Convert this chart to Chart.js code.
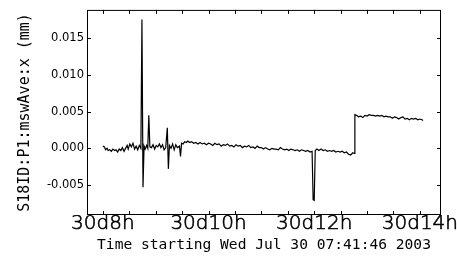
<!DOCTYPE html>
<html>
<head>
<meta charset="utf-8">
<script src="https://cdn.jsdelivr.net/npm/chart.js@4/dist/chart.umd.min.js"></script>
<style>
  html, body { margin: 0; padding: 0; background: #fff; }
  #wrap { width: 457px; height: 262px; }
</style>
</head>
<body>
<div id="wrap"><canvas id="chart" width="457" height="262"></canvas></div>
<script>
// temps en heures (30 juillet 2003)
const hours = [
  8.00, 8.03, 8.05, 8.08, 8.10, 8.13, 8.16, 8.19, 8.22, 8.25, 8.28, 8.31, 8.34, 8.37, 8.40, 8.43,
  8.46, 8.48, 8.51, 8.54, 8.57, 8.60, 8.63, 8.66, 8.69, 8.72, 8.74, 8.76, 8.78, 8.80, 8.83, 8.85,
  8.87, 8.89, 8.92, 8.95, 8.98, 9.01, 9.04, 9.07, 9.10, 9.13, 9.16, 9.19, 9.22, 9.24, 9.26, 9.29,
  9.32, 9.35, 9.38, 9.41, 9.45, 9.47, 9.49, 9.52, 9.55, 9.58, 9.61, 9.64, 9.68, 9.72, 9.76, 9.80,
  9.84, 9.88, 9.92, 9.96, 10.00, 10.04, 10.08, 10.12, 10.16, 10.20, 10.24, 10.28, 10.32, 10.36,
  10.40, 10.44, 10.48, 10.52, 10.56, 10.60, 10.64, 10.68, 10.72, 10.76, 10.80, 10.84, 10.88, 10.92,
  10.96, 11.00, 11.04, 11.08, 11.12, 11.16, 11.20, 11.24, 11.28, 11.32, 11.36, 11.40, 11.44, 11.48,
  11.52, 11.56, 11.60, 11.64, 11.68, 11.72, 11.76, 11.80, 11.84, 11.88, 11.92, 11.96, 11.98, 12.00,
  12.02, 12.05, 12.09, 12.13, 12.17, 12.21, 12.25, 12.29, 12.33, 12.37, 12.41, 12.45, 12.49, 12.53,
  12.57, 12.61, 12.65, 12.69, 12.73, 12.76, 12.77, 12.80, 12.84, 12.88, 12.92, 12.96, 13.00, 13.04,
  13.08, 13.12, 13.16, 13.20, 13.24, 13.28, 13.32, 13.36, 13.40, 13.44, 13.48, 13.52, 13.56, 13.60,
  13.64, 13.68, 13.72, 13.76, 13.80, 13.84, 13.88, 13.92, 13.96, 14.00, 14.04, 14.06
];

// S18ID:P1:mswAve:x en mm
const mswAveX = [
  0.0003, 0.0002, -0.0002, 0.0000, -0.0003, -0.0002, -0.0004, -0.0001, -0.0003, -0.0002, -0.0005, -0.0001, -0.0003, 0.0001, -0.0004, 0.0000,
  0.0004, -0.0001, 0.0006, 0.0002, 0.0007, -0.0001, 0.0003, -0.0002, 0.0004, 0.0000, 0.0176, -0.0053, 0.0003, -0.0001, 0.0004, 0.0000,
  0.0045, 0.0002, 0.0001, 0.0005, -0.0001, 0.0004, 0.0002, 0.0006, 0.0001, 0.0005, -0.0002, 0.0001, 0.0028, -0.0028, 0.0004, 0.0000,
  0.0006, -0.0002, 0.0005, 0.0001, 0.0003, -0.0011, 0.0007, 0.0006, 0.0009, 0.0008, 0.0010, 0.0008, 0.0009, 0.0007, 0.0008, 0.0006,
  0.0008, 0.0006, 0.0007, 0.0005, 0.0007, 0.0006, 0.0004, 0.0007, 0.0005, 0.0006, 0.0003, 0.0005, 0.0004, 0.0006,
  0.0003, 0.0004, 0.0002, 0.0005, 0.0003, 0.0004, 0.0001, 0.0003, 0.0002, 0.0004, 0.0001, 0.0002, 0.0000, 0.0003,
  0.0001, 0.0001, -0.0001, 0.0001, -0.0001, -0.0002, 0.0000, -0.0001, -0.0001, -0.0002, 0.0001, -0.0001, -0.0002, -0.0001,
  -0.0003, -0.0001, -0.0002, -0.0003, -0.0002, -0.0004, -0.0002, -0.0003, -0.0004, -0.0003, -0.0005, -0.0004, -0.0070, -0.0071,
  -0.0003, -0.0001, -0.0003, -0.0001, -0.0003, -0.0002, -0.0004, -0.0003, -0.0004, -0.0003, -0.0005, -0.0004, -0.0005, -0.0004,
  -0.0006, -0.0005, -0.0008, -0.0009, -0.0006, -0.0007, 0.0046, 0.0045, 0.0043, 0.0044, 0.0042, 0.0045, 0.0044, 0.0046,
  0.0045, 0.0045, 0.0044, 0.0045, 0.0044, 0.0045, 0.0043, 0.0044, 0.0043, 0.0043, 0.0041, 0.0043, 0.0042, 0.0040,
  0.0042, 0.0043, 0.0040, 0.0041, 0.0039, 0.0041, 0.0040, 0.0041, 0.0039, 0.0040, 0.0039, 0.0038
];

// bornes et graduations des axes
const xRange = [7.7, 14.4];
const yRange = [-0.0091, 0.0189];
const xStep = 0.5;
const yStep = 0.005;
const xTitle = 'Time starting Wed Jul 30 07:41:46 2003';
const yTitle = 'S18ID:P1:mswAve:x (mm)';

function hourLabel(v) {
    const r = Math.round(v);
    if (Math.abs(v - r) > 1e-6 || r % 2 !== 0) return '';
    return '30d' + r + 'h';
}

// cadre + petites graduations vers l'intérieur
const framePlugin = {
    id: 'frame',
    afterDatasetsDraw(chart) {
        const ctx = chart.ctx;
        const a = chart.chartArea;
        const xs = chart.scales.x;
        const ys = chart.scales.y;
        ctx.save();
        ctx.strokeStyle = '#000';
        ctx.lineWidth = 1;
        ctx.strokeRect(a.left + 0.5, a.top + 0.5, a.right - a.left - 1, a.bottom - a.top - 1);
        ctx.beginPath();
        xs.ticks.forEach(t => {
            const px = Math.round(xs.getPixelForValue(t.value)) + 0.5;
            ctx.moveTo(px, a.bottom);
            ctx.lineTo(px, a.bottom - 4);
            ctx.moveTo(px, a.top);
            ctx.lineTo(px, a.top + 4);
        });
        ys.ticks.forEach(t => {
            const py = Math.round(ys.getPixelForValue(t.value)) + 0.5;
            ctx.moveTo(a.left, py);
            ctx.lineTo(a.left + 4, py);
            ctx.moveTo(a.right, py);
            ctx.lineTo(a.right - 4, py);
        });
        ctx.stroke();
        ctx.restore();
    }
};

new Chart(document.getElementById('chart'), {
    type: 'line',
    data: {
        datasets: [{
            data: hours.map((h, i) => ({ x: h, y: mswAveX[i] })),
            borderColor: '#000',
            borderWidth: 1.2,
            pointRadius: 0,
            tension: 0,
            fill: false
        }]
    },
    options: {
        responsive: false,
        animation: false,
        layout: { padding: { top: 5, right: 16, left: 0, bottom: 0 } },
        plugins: { legend: { display: false }, tooltip: { enabled: false } },
        scales: {
            x: {
                type: 'linear',
                min: xRange[0],
                max: xRange[1],
                afterFit(scale) { scale.height = 47; },
                grid: { display: false, drawTicks: false },
                border: { display: false },
                ticks: {
                    stepSize: xStep,
                    includeBounds: false,
                    autoSkip: false,
                    maxRotation: 0,
                    padding: -3,
                    color: '#000',
                    textStrokeColor: '#000',
                    textStrokeWidth: 0.6,
                    font: { family: "'DejaVu Sans', sans-serif", size: 20, weight: '200' },
                    callback: hourLabel
                },
                title: {
                    display: true,
                    text: xTitle,
                    color: '#000',
                    padding: { top: 0, bottom: 8 },
                    font: { family: "'DejaVu Sans Mono', monospace", size: 14.6 }
                }
            },
            y: {
                min: yRange[0],
                max: yRange[1],
                afterFit(scale) { scale.width = 87; },
                grid: { display: false, drawTicks: false },
                border: { display: false },
                ticks: {
                    stepSize: yStep,
                    includeBounds: false,
                    padding: 3,
                    color: '#000',
                    font: { family: "'DejaVu Sans', sans-serif", size: 11.5 },
                    callback: v => v.toFixed(3)
                },
                title: {
                    display: true,
                    text: yTitle,
                    color: '#000',
                    padding: { top: 16, bottom: 0 },
                    font: { family: "'DejaVu Sans Mono', monospace", size: 15 }
                }
            }
        }
    },
    plugins: [framePlugin]
});
</script>
</body>
</html>
